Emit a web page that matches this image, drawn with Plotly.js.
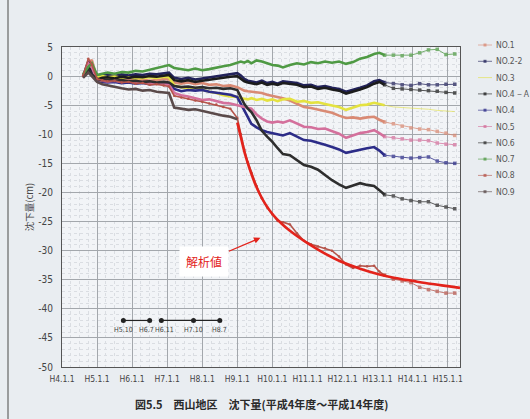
<!DOCTYPE html>
<html>
<head>
<meta charset="utf-8">
<script src="https://cdn.plot.ly/plotly-3.0.1.min.js"></script>
<style>
  html, body { margin: 0; padding: 0; background: #e9edf1; }
  #chart { width: 530px; height: 419px; }
</style>
</head>
<body>
<div id="chart"></div>
<script>
// Settlement at monitoring points, Nishiyama district (H4 - H14 fiscal years)
// x values are Heisei years as decimals (H9.5 = mid 1997)

const obsYears = [4.6, 4.75, 4.85, 5.0, 5.15, 5.3, 5.5, 5.7, 5.9, 6.1,
  6.3, 6.5, 6.7, 6.9, 7.05, 7.2, 7.4, 7.6, 7.8, 8.0,
  8.2, 8.4, 8.6, 8.8, 9.0, 9.1, 9.2, 9.3, 9.4, 9.55,
  9.7, 9.85, 10.0, 10.15, 10.3, 10.5, 10.7, 10.9, 11.1, 11.3,
  11.5, 11.7, 11.9, 12.1, 12.3, 12.5, 12.7, 12.9, 13.05, 13.2];

const laterYears = [13.2, 13.45, 13.7, 13.95, 14.2, 14.45, 14.7, 14.95, 15.2];

const seriesNames = ['NO.1', 'NO.2-2', 'NO.3', 'NO.4－A', 'NO.4', 'NO.5', 'NO.6', 'NO.7', 'NO.8', 'NO.9'];
const seriesColors = ['#d98a74', '#22225a', '#e4e240', '#1c1c1c', '#2c2c88', '#d4709c', '#2e2e2e', '#4f9a44', '#b5544a', '#5a4a4a'];

// settlement (cm), continuous record
const no1Obs = [-0.1, 2.0, 2.8, -0.4, -0.3, -0.5, -0.4, -0.6, -0.5, -0.7,
  -0.6, -0.8, -0.7, -0.5, -0.6, -1.1, -1.3, -1.1, -1.4, -1.2,
  -1.5, -1.4, -1.7, -1.6, -1.9, -2.2, -2.5, -2.6, -2.7, -2.8,
  -2.9, -3.2, -3.4, -3.7, -3.8, -4.2, -4.8, -5.3, -5.5, -5.8,
  -6.0, -6.3, -6.8, -7.2, -7.1, -7.3, -7.1, -7.0, -7.5, -7.9];
const no22Obs = [0.0, 2.5, 1.0, -0.3, 0.1, 0.2, 0.0, 0.3, 0.1, 0.3,
  0.2, 0.4, 0.3, 0.5, 0.6, -0.3, -0.5, -0.3, -0.6, -0.4,
  -0.2, 0.0, 0.2, 0.4, 0.5, 0.1, -0.5, -0.8, -0.9, -1.1,
  -0.8, -1.2, -1.0, -1.3, -0.9, -1.1, -1.2, -1.6, -1.5, -1.9,
  -1.7, -2.0, -2.2, -2.7, -2.4, -2.0, -1.6, -0.9, -0.7, -1.1];
const no3Obs = [0.0, 0.8, 0.5, -0.2, 0.0, -0.2, -0.1, -0.3, -0.2, -0.4,
  -0.3, -0.2, -0.3, -0.1, -0.2, -1.6, -1.9, -2.1, -2.0, -2.4,
  -2.7, -2.9, -3.3, -3.5, -3.6, -3.8, -3.9, -4.0, -3.8, -4.1,
  -3.9, -4.2, -4.0, -4.3, -4.0, -3.9, -4.4, -4.3, -4.6, -4.5,
  -4.8, -5.0, -5.3, -5.8, -5.4, -5.0, -4.9, -4.6, -4.8, -5.0];
const no4aObs = [-0.2, 1.5, 0.5, -0.6, -0.3, -0.2, -0.4, -0.1, -0.3, -0.1,
  -0.2, 0.0, -0.1, 0.1, 0.2, -0.7, -0.9, -0.7, -1.0, -0.8,
  -0.6, -0.4, -0.3, -0.1, 0.0, -0.4, -0.9, -1.1, -1.2, -1.4,
  -1.1, -1.5, -1.3, -1.5, -1.2, -1.4, -1.5, -1.9, -1.8, -2.2,
  -2.0, -2.3, -2.5, -3.0, -2.7, -2.3, -1.9, -1.3, -1.0, -1.5];
const no4Obs = [-0.2, 1.0, 0.4, -0.8, -1.0, -1.1, -1.0, -1.2, -1.1, -1.3,
  -1.2, -1.4, -1.3, -1.2, -1.3, -2.2, -2.6, -2.4, -2.5, -2.4,
  -2.7, -2.9, -3.1, -3.2, -3.6, -4.8, -5.8, -7.0, -8.2, -8.8,
  -9.3, -9.6, -9.8, -10.0, -10.2, -9.8, -10.4, -11.0, -11.1, -11.4,
  -11.8, -12.2, -12.6, -13.2, -12.9, -12.6, -12.4, -12.2, -12.8, -13.6];
const no5Obs = [-0.2, 2.2, 1.5, -0.6, -0.8, -0.9, -0.8, -1.0, -0.9, -1.1,
  -1.0, -1.2, -1.3, -1.4, -1.5, -2.9, -3.3, -3.5, -3.8, -4.1,
  -4.0, -4.3, -4.6, -4.7, -5.0, -5.1, -5.2, -5.4, -5.6, -6.6,
  -7.3, -7.8, -8.0, -7.8, -8.0, -7.6, -8.2, -8.7, -8.8, -9.1,
  -9.0, -9.4, -9.9, -10.6, -10.2, -9.8, -9.6, -9.3, -9.8, -10.4];
const no6Obs = [-0.1, 1.2, 0.3, -0.5, -0.7, -0.6, -0.8, -0.7, -0.9, -0.8,
  -1.0, -0.9, -1.1, -1.0, -1.1, -1.7, -1.9, -1.8, -2.0, -1.9,
  -2.1, -2.0, -2.2, -2.1, -2.4, -3.6, -4.8, -5.6, -6.2, -7.6,
  -9.4, -10.4, -11.3, -12.4, -13.4, -13.6, -14.5, -15.3, -15.6, -16.1,
  -17.0, -17.9, -18.6, -19.2, -18.8, -18.4, -18.7, -18.9, -19.6, -20.4];
const no7Obs = [0.3, 1.6, 2.2, 0.2, 0.4, 0.6, 0.4, 0.7, 0.6, 0.9,
  0.8, 1.1, 1.3, 1.6, 1.9, 1.4, 1.2, 1.0, 1.3, 1.0,
  1.2, 1.5, 1.7, 1.9, 2.3, 2.5, 2.3, 2.6, 2.2, 2.7,
  2.5, 2.2, 1.9, 1.8, 1.5, 1.9, 2.2, 2.0, 2.4, 2.2,
  2.5, 2.3, 2.5, 2.1, 2.4, 3.0, 3.3, 3.8, 4.0, 3.6];
const no8Obs = [0.0, 3.0, 2.0, -0.5, -0.7, -0.9, -0.8, -1.1, -1.0, -1.3,
  -1.2, -1.5, -1.4, -1.6, -1.8, -3.4, -3.7, -3.9, -4.2, -4.4,
  -4.7, -4.9, -5.3, -5.6, -7.2, -10.0, -12.6, -14.8, -16.6, -18.9,
  -21.0, -22.6, -23.8, -24.9, -25.1, -25.5, -27.0, -28.3, -28.9, -29.3,
  -29.6, -30.0, -31.0, -32.4, -33.0, -32.6, -32.7, -32.6, -33.6, -34.2];
const no9Obs = [-0.3, 0.6, 0.0, -1.0, -1.4, -1.6, -1.9, -2.1, -2.3, -2.2,
  -2.5, -2.4, -2.7, -2.8, -2.9, -5.4, -5.6, -5.8, -5.7, -6.0,
  -6.3, -6.5, -6.8, -7.0, -7.4];

// settlement (cm), periodic levelling after H13
const no1Later = [-7.9, -8.2, -8.6, -8.9, -9.1, -9.2, -9.5, -9.8, -10.2];
const no22Later = [-1.1, -1.3, -1.5, -1.6, -1.3, -1.5, -1.5, -1.4, -1.4];
const no3Later = [-5.0, -5.3, -5.4, -5.5, -5.5, -5.7, -5.9, -6.0, -6.1];
const no4aLater = [-1.5, -2.1, -2.2, -2.3, -2.4, -2.5, -2.6, -2.8, -2.9];
const no4Later = [-13.6, -13.8, -14.0, -14.1, -14.0, -13.9, -14.6, -14.9, -15.0];
const no5Later = [-10.4, -10.6, -10.8, -11.0, -11.0, -11.1, -11.5, -11.7, -11.8];
const no6Later = [-20.4, -20.6, -21.1, -21.4, -21.6, -21.6, -22.2, -22.5, -22.8];
const no7Later = [3.6, 3.6, 3.5, 3.6, 4.0, 4.5, 4.6, 3.7, 3.8];
const no8Later = [-34.2, -34.9, -35.2, -35.5, -36.3, -36.7, -37.0, -37.3, -37.3];
const no9Later = [];

// analysed settlement curve
const analysisYears = [9.0, 9.1, 9.2, 9.3, 9.4, 9.5, 9.65, 9.8, 10.0, 10.25, 10.5, 10.75, 11.0,
  11.5, 12.0, 12.5, 13.0, 13.5, 14.0, 14.5, 15.0, 15.35];
const analysisValues = [-8.0, -10.5, -13.0, -15.0, -16.8, -18.4, -20.4, -22.0, -23.7, -25.3, -26.6, -27.7, -28.7,
  -30.5, -32.0, -33.1, -34.0, -34.7, -35.2, -35.7, -36.1, -36.4];
const analysisLabel = '解析値';

// survey periods
const periodYears = [5.75, 6.5, null, 6.8333, 7.75, 8.5];
const periodLevel = [-42, -42, null, -42, -42, -42];
const periodLabels = ['H5.10', 'H6.7', '', 'H6.11', 'H7.10', 'H8.7'];

// axes
const xTickVals = [4, 5, 6, 7, 8, 9, 10, 11, 12, 13, 14, 15];
const xTickText = ['H4.1.1', 'H5.1.1', 'H6.1.1', 'H7.1.1', 'H8.1.1', 'H9.1.1', 'H10.1.1',
  'H11.1.1', 'H12.1.1', 'H13.1.1', 'H14.1.1', 'H15.1.1'];
const yTickVals = [5, 0, -5, -10, -15, -20, -25, -30, -35, -40, -45, -50];
const yTickText = yTickVals.map(v => String(v));

const chartTitle = '図5.5　西山地区　沈下量(平成4年度～平成14年度)';
const yTitle = '沈下量(cm)';

const obsSets = [no1Obs, no22Obs, no3Obs, no4aObs, no4Obs, no5Obs, no6Obs, no7Obs, no8Obs, no9Obs];
const laterSets = [no1Later, no22Later, no3Later, no4aLater, no4Later, no5Later, no6Later, no7Later, no8Later, no9Later];

const narrowFont = 'Liberation Sans Narrow, DejaVu Sans Condensed, sans-serif';

const traces = [];
seriesNames.forEach((name, i) => {
  const isMeasured8 = name === 'NO.8';
  traces.push({
    type: 'scatter', mode: isMeasured8 ? 'lines+markers' : 'lines',
    name: name, x: obsYears, y: obsSets[i],
    line: { color: seriesColors[i], width: isMeasured8 ? 1.6 : 2.6 },
    marker: { size: 2.5, color: seriesColors[i] },
    showlegend: false, hoverinfo: 'skip'
  });
  if (laterSets[i].length) {
    const isNo3 = name === 'NO.3';
    traces.push({
      type: 'scatter', mode: isNo3 ? 'lines' : 'lines+markers',
      name: name, x: laterYears, y: laterSets[i],
      line: { color: seriesColors[i], width: 1 },
      marker: { size: 3.5, symbol: 'square', color: seriesColors[i] },
      opacity: isNo3 ? 0.6 : 0.75,
      showlegend: false, hoverinfo: 'skip'
    });
  }
});

traces.push({
  type: 'scatter', mode: 'lines', name: analysisLabel,
  x: analysisYears, y: analysisValues,
  line: { color: '#e3231b', width: 2.6, shape: 'spline', smoothing: 0.8 },
  showlegend: false, hoverinfo: 'skip'
});

traces.push({
  type: 'scatter', mode: 'lines+markers',
  x: periodYears, y: periodLevel,
  line: { color: '#222', width: 1.2 },
  marker: { size: 5, color: '#222' },
  showlegend: false, hoverinfo: 'skip', cliponaxis: false
});

// pixel frame of the plotting area, used to place the side legend
const PLOT = { l: 62, r: 460, t: 47, b: 367 };
const px = xp => (xp - PLOT.l) / (PLOT.r - PLOT.l);
const py = yp => (PLOT.b - yp) / (PLOT.b - PLOT.t);

const shapes = [];
const annotations = [];

// labels under the survey period markers
const periodShift = [0, -3, 0, 3, 0, 0];
periodLabels.forEach((lab, i) => {
  if (!lab) return;
  annotations.push({ xref: 'x', yref: 'y', x: periodYears[i], y: periodLevel[i],
    yshift: -10, xshift: periodShift[i], xanchor: 'center', yanchor: 'middle',
    text: lab, showarrow: false, font: { family: narrowFont, size: 7, color: '#444' } });
});

const legendTop = 45, legendStep = 16.3;
seriesNames.forEach((name, i) => {
  const yy = py(legendTop + i * legendStep);
  shapes.push({ type: 'line', xref: 'paper', yref: 'paper', x0: px(478), x1: px(492), y0: yy, y1: yy,
    line: { color: seriesColors[i], width: 1 }, opacity: 0.6 });
  if (name !== 'NO.3') {
    shapes.push({ type: 'rect', xref: 'paper', yref: 'paper',
      x0: px(483.5), x1: px(486.5), y0: yy - 1.5 / 320, y1: yy + 1.5 / 320,
      fillcolor: seriesColors[i], line: { width: 0 }, opacity: 0.75 });
  }
  annotations.push({ xref: 'paper', yref: 'paper', x: px(494), y: yy, xanchor: 'left', yanchor: 'middle',
    text: name, showarrow: false,
    font: { family: narrowFont, size: 8.5, color: '#555' } });
});

// outer frame line on the left
shapes.push({ type: 'line', xref: 'paper', yref: 'paper', x0: px(8), x1: px(8), y0: py(0), y1: py(419),
  line: { color: '#666', width: 1.2 } });

annotations.push({
  xref: 'x', yref: 'y', axref: 'x', ayref: 'y',
  x: 9.66, y: -27.8, ax: 8.06, ay: -31.9,
  text: analysisLabel, showarrow: true, arrowhead: 2, arrowsize: 1, arrowwidth: 1.3,
  arrowcolor: '#e3231b', bgcolor: '#ffffff', borderpad: 6,
  font: { family: 'Noto Sans CJK JP, sans-serif', size: 12, color: '#e3231b' }
});

annotations.push({
  xref: 'paper', yref: 'paper', x: px(261), y: py(404), xanchor: 'center', yanchor: 'middle',
  text: chartTitle, showarrow: false,
  font: { family: 'Noto Sans CJK JP, sans-serif', size: 11, color: '#2a2a2a', weight: 'bold' }
});

const layout = {
  width: 530, height: 419,
  margin: { l: PLOT.l, r: 530 - PLOT.r, t: PLOT.t, b: 419 - PLOT.b, pad: 0 },
  paper_bgcolor: '#e9edf1', plot_bgcolor: '#f2f4f7',
  showlegend: false,
  xaxis: {
    range: [4, 15.35], tickmode: 'array', tickvals: xTickVals, ticktext: xTickText,
    tickfont: { family: narrowFont, size: 8.5, color: '#444' }, ticks: '', ticklabelstandoff: 4,
    showgrid: true, gridcolor: '#a3a7ac', gridwidth: 1,
    showline: true, linecolor: '#555', linewidth: 1, mirror: true, zeroline: false,
    minor: { tickmode: 'linear', tick0: 4, dtick: 0.25, showgrid: true, gridcolor: '#dadde2', griddash: '3px,3px', gridwidth: 1 }
  },
  yaxis: {
    range: [-50, 5], tickmode: 'array', tickvals: yTickVals, ticktext: yTickText,
    tickfont: { family: narrowFont, size: 10, color: '#444' }, ticks: '', ticklabelstandoff: 6,
    showgrid: true, gridcolor: '#a3a7ac', gridwidth: 1,
    showline: true, linecolor: '#555', linewidth: 1, mirror: true, zeroline: false,
    minor: { tickmode: 'linear', tick0: 0, dtick: 1, showgrid: true, gridcolor: '#dadde2', griddash: '3px,3px', gridwidth: 1 },
    title: { text: yTitle, standoff: 2, font: { family: 'Noto Sans CJK JP, sans-serif', size: 9.5, color: '#444' } }
  },
  shapes: shapes,
  annotations: annotations
};

Plotly.newPlot('chart', traces, layout, { displayModeBar: false, staticPlot: true });
</script>
</body>
</html>
